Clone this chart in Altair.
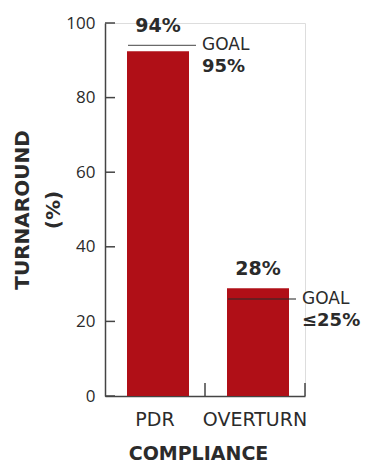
import altair as alt
import pandas as pd

categories = ["PDR", "OVERTURN"]
bar_values = [92.4, 28.9]
goal_values = [94.0, 26.0]
value_labels = ["94%", "28%"]
goal_labels = ["95%", "≤25%"]
y_ticks = [0, 20, 40, 60, 80, 100]

RED = "#B00F17"
INK = "#2b2b2b"
FONT = "DejaVu Sans"

df = pd.DataFrame({
    "cat": categories,
    "value": bar_values,
    "goal": goal_values,
    "vlabel": value_labels,
    "glabel": goal_labels,
})
df["top"] = df[["value", "goal"]].max(axis=1)
df["goalword"] = "GOAL"
ticks_df = pd.DataFrame({"v": y_ticks})

W, H = 200, 373

x_enc = alt.X(
    "cat:N",
    sort=categories,
    scale=alt.Scale(domain=categories, paddingInner=0, paddingOuter=0),
    axis=alt.Axis(
        title="COMPLIANCE",
        titleFont=FONT, titleFontSize=19, titleFontWeight="bold", titleColor=INK,
        titlePadding=15, titleX=93,
        labelFont=FONT, labelFontSize=19, labelColor=INK, labelPadding=14,
        labelAngle=0,
        tickSize=0, domainColor="#444", domainWidth=1.5,
    ),
)
y_enc = alt.Y(
    "value:Q",
    scale=alt.Scale(domain=[0, 100], nice=False, zero=True),
    axis=alt.Axis(
        title=["TURNAROUND", "(%)"],
        titleFont=FONT, titleFontSize=20, titleFontWeight="bold", titleColor=INK,
        titleLineHeight=31, titlePadding=2,
        values=y_ticks,
        labelFont="Open Sans", labelFontSize=17, labelColor=INK, labelPadding=10,
        tickSize=0, domainColor="#444", domainWidth=1.5, grid=False,
    ),
)

base = alt.Chart(df)

bars = base.mark_bar(color=RED, size=62, xOffset=3).encode(x=x_enc, y=y_enc)

goal_line = base.mark_tick(color=INK, size=68, thickness=1.3, xOffset=7).encode(
    x=alt.X("cat:N", sort=categories), y=alt.Y("goal:Q")
)

value_text = base.mark_text(
    font=FONT, fontSize=19, fontWeight="bold", color=INK,
    baseline="alphabetic", dy=-13, dx=3,
).encode(x=alt.X("cat:N", sort=categories), y=alt.Y("top:Q"), text="vlabel:N")

goal_word = base.mark_text(
    font=FONT, fontSize=17, color=INK, align="left", baseline="middle", dx=47,
).encode(x=alt.X("cat:N", sort=categories), y=alt.Y("goal:Q"), text="goalword:N")

goal_num = base.mark_text(
    font=FONT, fontSize=18, fontWeight="bold", color=INK, align="left",
    baseline="middle", dx=47, dy=22,
).encode(x=alt.X("cat:N", sort=categories), y=alt.Y("goal:Q"), text="glabel:N")

y_tick_marks = alt.Chart(ticks_df).mark_rule(color="#444", strokeWidth=1.5).encode(
    y=alt.Y("v:Q"), x=alt.value(0), x2=alt.value(10)
)

x_tick_marks = base.mark_rule(color="#444", strokeWidth=1.5).encode(
    x=alt.X("cat:N", sort=categories, bandPosition=1),
    y=alt.value(H - 13), y2=alt.value(H),
)

chart = (
    alt.layer(bars, goal_line, value_text, goal_word, goal_num, y_tick_marks, x_tick_marks)
    .properties(
        width=W, height=H,
        autosize=alt.AutoSizeParams(type="none"),
        padding={"left": 105, "top": 23, "right": 67, "bottom": 72},
    )
    .configure_view(stroke=None)
    .configure(background="white")
)

chart.save("out.html", embed_options={"renderer": "svg", "actions": False})
